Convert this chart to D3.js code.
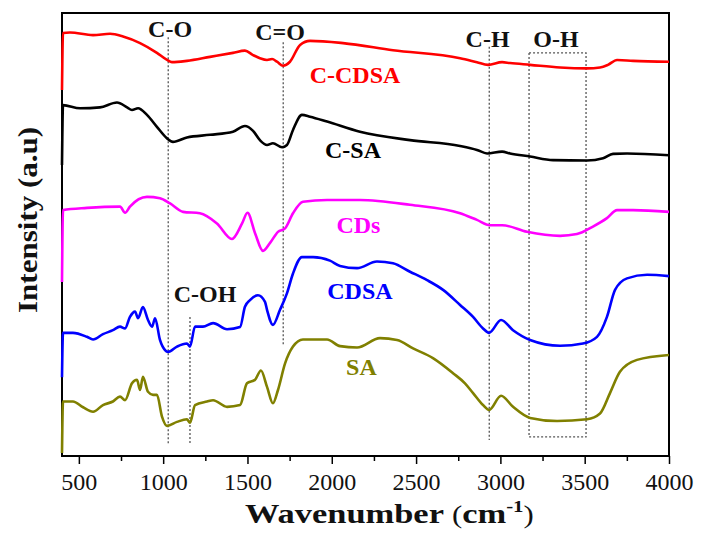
<!DOCTYPE html>
<html>
<head>
<meta charset="utf-8">
<script src="https://cdn.jsdelivr.net/npm/d3@7/dist/d3.min.js"></script>
<style>
  body { margin: 0; background: #fff; }
  text { font-family: "Liberation Serif", "Times New Roman", serif; }
</style>
</head>
<body>
<svg id="chart" width="705" height="535"></svg>
<script>
// FTIR spectra: [wavenumber (cm-1), intensity (a.u.)], curves stacked by offset
const wavenumberTicks = [500, 1000, 1500, 2000, 2500, 3000, 3500, 4000];
const minorTicks = [750, 1250, 1750, 2250, 2750, 3250, 3750];

const cCDSA = [[400,82.6],[406,95.5],[447,95.6],[584,95.0],[685,95.3],[762,94.7],[863,93.2],[963,91.0],
  [1023,89.4],[1052,88.9],[1141,89.2],[1278,90.1],[1414,91.0],[1485,91.5],[1533,90.5],[1574,89.8],
  [1616,89.4],[1646,89.6],[1675,89.0],[1711,88.1],[1752,89.0],[1812,92.8],[1871,93.7],[2067,93.2],
  [2363,91.6],[2761,89.8],[2861,88.9],[2927,88.3],[3010,88.9],[3057,88.7],[3176,88.3],[3354,87.7],
  [3514,87.5],[3591,87.7],[3638,88.3],[3692,89.4],[3787,89.2],[4000,89.0]];

const cSA = [[400,65.7],[406,79.2],[507,78.5],[625,78.7],[726,79.8],[786,78.7],[815,78.1],[851,78.5],
  [904,77.0],[963,74.3],[1023,71.7],[1058,70.9],[1141,71.9],[1278,72.5],[1414,73.2],[1485,74.5],
  [1533,73.4],[1574,71.3],[1616,70.2],[1651,70.6],[1705,69.7],[1734,70.2],[1770,73.6],[1823,77.0],
  [1871,76.6],[1972,75.5],[2167,73.2],[2464,71.3],[2761,70.0],[2861,69.1],[2921,68.3],[3010,68.7],
  [3057,68.3],[3176,67.6],[3312,66.8],[3514,66.7],[3609,67.2],[3668,68.2],[3751,68.3],[4000,67.9]];

const cds = [[400,39.3],[406,55.5],[548,56.0],[744,56.3],[774,54.9],[803,56.3],[904,58.5],[981,58.2],
  [1041,57.0],[1118,55.1],[1218,54.8],[1319,52.5],[1408,49.0],[1468,52.5],[1500,54.9],[1545,50.3],
  [1592,46.3],[1634,48.1],[1681,50.6],[1723,51.4],[1770,54.8],[1829,57.4],[1972,57.8],[2167,57.8],
  [2464,56.7],[2761,54.8],[2861,53.3],[2938,52.1],[3010,52.1],[3158,50.6],[3354,49.7],[3454,50.1],
  [3549,51.8],[3632,53.7],[3692,55.5],[3787,55.5],[4000,55.1]];

const cdsa = [[400,17.8],[406,27.8],[465,27.8],[548,26.9],[584,26.3],[643,27.5],[702,28.4],[744,29.2],
  [774,28.8],[803,31.4],[833,32.6],[851,31.1],[880,33.6],[910,30.7],[934,29.2],[952,31.1],[981,26.2],
  [1011,23.9],[1029,23.5],[1082,24.7],[1141,25.4],[1159,24.7],[1189,29.2],[1236,29.2],[1296,30.0],
  [1379,28.6],[1456,29.1],[1485,33.7],[1515,35.2],[1562,36.3],[1604,34.8],[1616,33.0],[1651,29.6],
  [1693,33.0],[1734,36.7],[1770,41.2],[1823,44.9],[1889,44.9],[1989,44.1],[2049,42.9],[2150,42.4],
  [2268,43.9],[2363,43.5],[2464,41.6],[2565,39.7],[2660,37.5],[2761,34.1],[2838,31.4],[2897,28.8],
  [2933,27.8],[3004,30.7],[3075,28.4],[3176,26.2],[3354,24.9],[3490,25.4],[3573,26.9],[3632,31.4],
  [3680,37.5],[3751,40.1],[3870,40.9],[4000,40.6]];

const sa = [[400,0.7],[406,12.3],[465,12.3],[525,11.0],[584,10.0],[643,11.5],[702,12.3],[744,13.4],
  [774,12.6],[815,16.4],[845,17.2],[863,14.9],[880,17.9],[910,14.5],[940,13.8],[963,13.8],[993,8.9],
  [1023,6.8],[1082,7.7],[1141,8.3],[1159,7.5],[1189,11.5],[1260,12.3],[1296,12.6],[1379,11.1],
  [1456,11.5],[1497,16.4],[1545,17.2],[1580,19.3],[1616,15.6],[1651,11.9],[1681,14.9],[1723,20.9],
  [1770,24.7],[1829,26.3],[1972,26.3],[2049,24.8],[2150,24.5],[2286,26.6],[2387,26.2],[2482,24.3],
  [2600,22.1],[2719,18.7],[2790,16.4],[2838,14.2],[2897,11.5],[2933,10.4],[3004,13.6],[3075,11.1],
  [3176,8.6],[3336,7.9],[3514,8.3],[3591,9.6],[3650,14.2],[3709,19.0],[3810,21.7],[4000,22.8]];

const seriesNames = ["C-CDSA", "C-SA", "CDs", "CDSA", "SA"];
const seriesColors = ["#ff0000", "#000000", "#ff00ff", "#0000ff", "#808000"];
// label anchor for each curve name: [wavenumber, intensity]
const seriesLabelAt = [[2138, 84.3], [2126, 67.3], [2158, 50.3], [2167, 35.4], [2176, 18.3]];

// vibrational band markers (wavenumber, cm-1)
const bandNames = ["C-O", "C=O", "C-OH", "C-H"];
const bandWavenumbers = [1030, 1712, 1159, 2934];
const ohBand = [3170, 3508];

const series = seriesNames.map((name, i) => ({
  name, color: seriesColors[i], data: [cCDSA, cSA, cds, cdsa, sa][i], label: seriesLabelAt[i]
}));

const svg = d3.select("#chart");
const margin = { left: 62, right: 36, top: 13, bottom: 79 };
const W = 705, H = 535;

const x = d3.scaleLinear().domain([400, 4000]).range([margin.left, W - margin.right]);
const y = d3.scaleLinear().domain([0, 100]).range([H - margin.bottom, margin.top]);

// band marker lines (drawn first, under the spectra)
const dashed = { stroke: "#555", "stroke-width": 1.3, "stroke-dasharray": "2,2", fill: "none" };
const bandSpans = [[94.5, 2.9], [93.4, 25.1], [31.4, 2.5], [92.4, 3.6]];
const gBands = svg.append("g");
bandWavenumbers.forEach((wn, i) => {
  const l = gBands.append("line")
    .attr("x1", x(wn)).attr("x2", x(wn))
    .attr("y1", y(bandSpans[i][0])).attr("y2", y(bandSpans[i][1]));
  Object.entries(dashed).forEach(([k, v]) => l.attr(k, v));
});
const ohRect = gBands.append("rect")
  .attr("x", x(ohBand[0])).attr("width", x(ohBand[1]) - x(ohBand[0]))
  .attr("y", y(91.0)).attr("height", y(4.3) - y(91.0));
Object.entries(dashed).forEach(([k, v]) => ohRect.attr(k, v));

// axes
const xAxis = d3.axisBottom(x).tickValues(wavenumberTicks).tickSize(8).tickPadding(9)
  .tickFormat(d3.format("d"));
const gx = svg.append("g").attr("transform", `translate(0,${H - margin.bottom})`).call(xAxis);
gx.select(".domain").remove();
gx.selectAll(".tick line").attr("stroke", "#000").attr("stroke-width", 1.5);
gx.selectAll(".tick text").attr("fill", "#111").style("font-size", "24px");

const gxm = svg.append("g").attr("transform", `translate(0,${H - margin.bottom})`)
  .call(d3.axisBottom(x).tickValues(minorTicks).tickSize(5).tickFormat(""));
gxm.select(".domain").remove();
gxm.selectAll(".tick line").attr("stroke", "#000").attr("stroke-width", 1.5);

// plot frame
svg.append("rect")
  .attr("x", margin.left).attr("y", margin.top)
  .attr("width", W - margin.left - margin.right).attr("height", H - margin.top - margin.bottom)
  .attr("fill", "none").attr("stroke", "#000").attr("stroke-width", 2);

// spectra
const line = d3.line().x(d => x(d[0])).y(d => y(d[1])).curve(d3.curveMonotoneX);
svg.append("g").selectAll("path").data(series).join("path")
  .attr("d", d => line(d.data))
  .attr("fill", "none")
  .attr("stroke", d => d.color)
  .attr("stroke-width", 2.6)
  .attr("stroke-linejoin", "round");

// curve names
svg.append("g").selectAll("text").data(series).join("text")
  .attr("x", d => x(d.label[0])).attr("y", d => y(d.label[1]))
  .attr("text-anchor", "middle")
  .attr("fill", d => d.color)
  .style("font-size", "24px").style("font-weight", "bold")
  .text(d => d.name);

// band labels
const bandLabelAt = [[1041, 94.6], [1693, 93.9], [1248, 34.8], [2924, 92.3], [3330, 92.3]];
const bandLabelText = ["C-O", "C=O", "C-OH", "C-H", "O-H"];
svg.append("g").selectAll("text").data(bandLabelText).join("text")
  .attr("x", (d, i) => x(bandLabelAt[i][0])).attr("y", (d, i) => y(bandLabelAt[i][1]))
  .attr("text-anchor", "middle")
  .attr("fill", "#111")
  .style("font-size", "24px").style("font-weight", "bold")
  .text(d => d);

// axis titles
const xt = svg.append("text")
  .attr("transform", "translate(245,523) scale(1.23,1)")
  .attr("fill", "#111")
  .style("font-size", "28px").style("font-weight", "bold");
xt.append("tspan").text("Wavenumber ");
xt.append("tspan").style("font-weight", "normal").style("font-size", "25px").text("(");
xt.append("tspan").text("cm");
xt.append("tspan").attr("dy", -11).style("font-size", "17px").text("-1");
xt.append("tspan").attr("dy", 11).style("font-weight", "normal").style("font-size", "25px").text(")");

svg.append("text")
  .attr("transform", "translate(37,313) rotate(-90) scale(1.15,1)")
  .attr("fill", "#111")
  .style("font-size", "27px").style("font-weight", "bold")
  .text("Intensity (a.u)");
</script>
</body>
</html>
